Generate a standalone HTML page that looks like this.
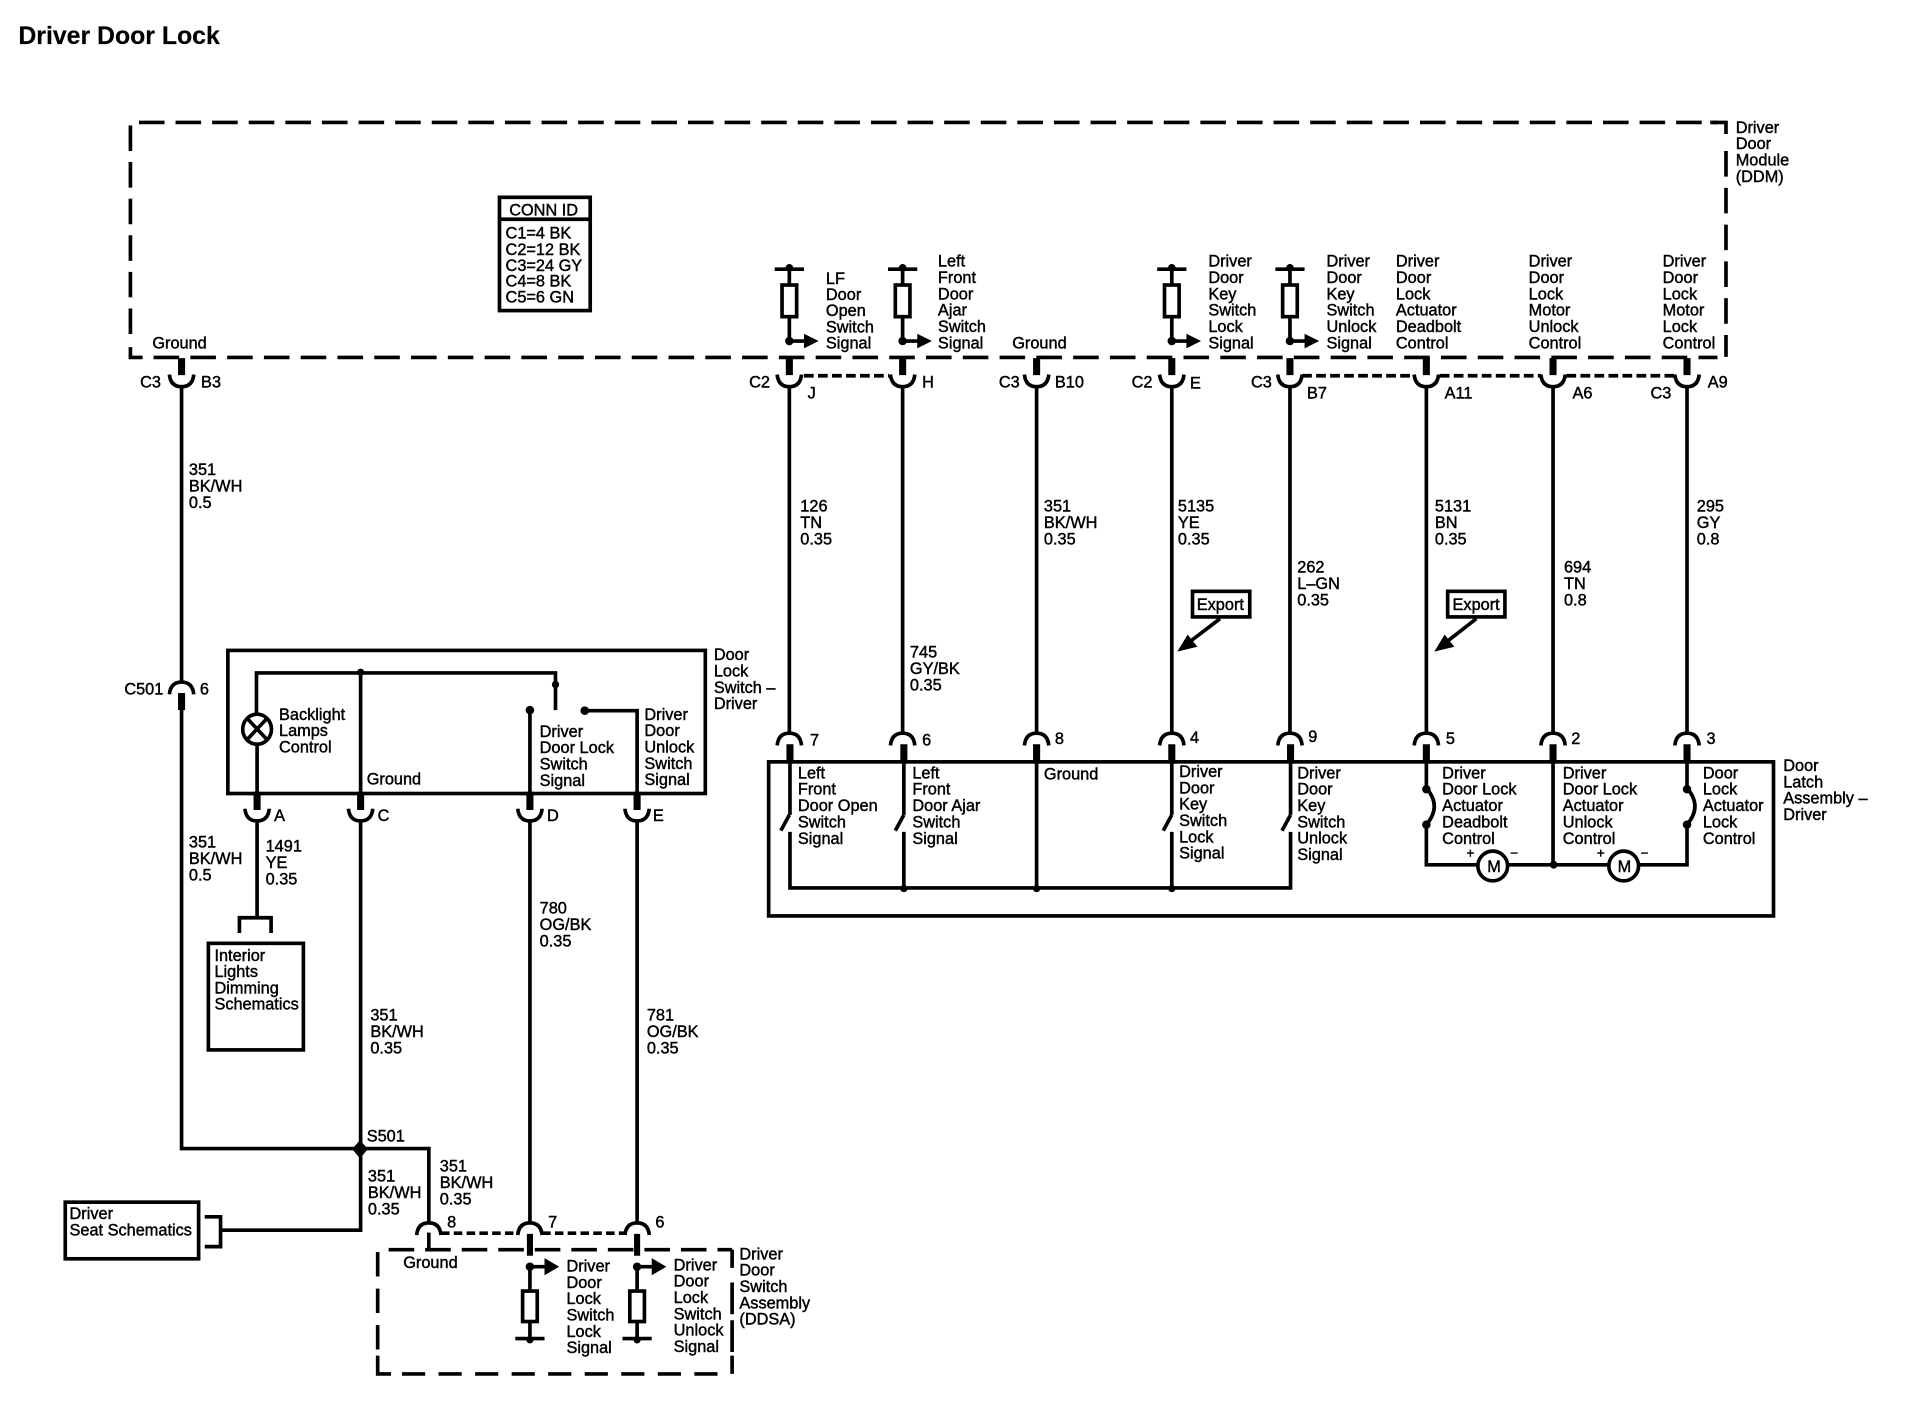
<!DOCTYPE html>
<html><head><meta charset="utf-8"><title>Driver Door Lock</title>
<style>
html,body{margin:0;padding:0;background:#fff}
svg{display:block}
text{font-family:"Liberation Sans",sans-serif;font-size:13.4px;fill:#000;stroke:#000;stroke-width:.35}
.n{fill:none;stroke:#000;stroke-width:3}
.s{fill:none;stroke:#000;stroke-width:5.8}
.f{fill:#000;stroke:none}
</style></head><body>
<svg xmlns="http://www.w3.org/2000/svg" width="1910" height="1408" viewBox="0 0 1568 1156">
<defs>
<path id="u" class="n" d="M-10 0Q-9 10 0 10Q9 10 10 0"/>
<path id="a" class="n" d="M-10 10Q-9 0 0 0Q9 0 10 10"/>
<g id="res"><path class="n" d="M0 0V13M-12 0H12M0 39V60"/><rect class="n" x="-6" y="13" width="12" height="26" fill="none"/><circle class="f" cx="0" cy="-1" r="3.2"/><circle class="f" cx="0" cy="59" r="3.5"/><path class="n" d="M0 59H14"/><path class="f" d="M12 53L24 59L12 65Z"/></g>
<g id="res2"><path class="n" d="M0 0V20M-12 59H12M0 45V59"/><rect class="n" x="-6" y="20" width="12" height="25" fill="none"/><circle class="f" cx="0" cy="60" r="3"/><circle class="f" cx="0" cy="0" r="3.5"/><path class="n" d="M0 0H14"/><path class="f" d="M12 -7L24 0L12 7Z"/></g>
</defs>

<text x="15" y="36" style="font-size:20.4px;font-weight:bold;stroke-width:.15">Driver Door Lock</text>

<!-- DDM dashed -->
<path class="n" stroke-dasharray="21 9.05" d="M114 100.5H1410"/>
<path class="n" d="M1404 100.5H1417V110"/>
<path class="n" stroke-dasharray="21 9.05" d="M107 103V275"/>
<path class="n" d="M107 285V293.500H117"/>
<path class="n" stroke-dasharray="21 9.2" d="M126 293.500H1410"/>
<path class="n" stroke-dasharray="21 9.2" d="M1417 124V293"/>

<!-- CONN ID -->
<rect class="n" x="410" y="162" width="74.500" height="93"/>
<path class="n" stroke-width="2" d="M410 180H484"/>
<text x="418" y="177">CONN ID</text>
<text x="415" y="196">C1=4 BK</text>
<text x="415" y="209.400">C2=12 BK</text>
<text x="415" y="222.400">C3=24 GY</text>
<text x="415" y="235.400">C4=8 BK</text>
<text x="415" y="248.500">C5=6 GN</text>

<!-- top stubs and connectors -->
<path class="s" d="M149 294V308M648 294V308M741 294V308M851 294V308M962 294V308M1059 294V308M1171 294V308M1275 294V308M1385 294V308"/>
<use href="#u" x="149" y="307.500"/><use href="#u" x="648" y="307.500"/><use href="#u" x="741" y="307.500"/><use href="#u" x="851" y="307.500"/><use href="#u" x="962" y="307.500"/><use href="#u" x="1059" y="307.500"/><use href="#u" x="1171" y="307.500"/><use href="#u" x="1275" y="307.500"/><use href="#u" x="1385" y="307.500"/>
<path class="n" stroke-dasharray="8 3.500" d="M660 308.500H730M1069 308.500H1161M1182 308.500H1265M1286 308.500H1375"/>
<use href="#res" x="648" y="221"/><use href="#res" x="741" y="221"/><use href="#res" x="962" y="221"/><use href="#res" x="1059" y="221"/>

<!-- main wires -->
<path class="n" d="M648 317V602M741 317V602M851 317V602M962 317V602M1059 317V602M1171 317V602M1275 317V602M1385 317V602"/>
<path class="n" d="M149 317V560M149 570V943H352V1004M296 675V1010H182M211 675V753M196.500 766V753.500H222.500V766M435 675V1004M523 675V1004"/>
<path class="s" d="M149 569V583"/>
<use href="#a" x="149" y="560"/>

<!-- lower latch connectors -->
<use href="#a" x="648" y="602"/><use href="#a" x="741" y="602"/><use href="#a" x="851" y="602"/><use href="#a" x="962" y="602"/><use href="#a" x="1059" y="602"/><use href="#a" x="1171" y="602"/><use href="#a" x="1275" y="602"/><use href="#a" x="1385" y="602"/>
<path class="s" d="M648.500 611V627M742 611V627M851 611V627M962 611V627M1059.500 611V627M1171 611V627M1275 611V627M1385 611V627"/>

<!-- latch box -->
<rect class="n" x="631" y="625.500" width="825" height="126.500"/>
<path class="n" d="M648.500 625V669M648.500 683V729H1059.500V683M742 625V669M742 683V729M851 625V729M962 625V669M962 683V729M1059.500 625V669"/>
<path class="n" d="M648 669L641 682M742 669L735 682M962 669L955 682M1059.500 669L1052.500 682"/>
<circle class="f" cx="742" cy="729.500" r="3"/><circle class="f" cx="851" cy="729.500" r="3"/><circle class="f" cx="962" cy="729.500" r="3"/>
<path class="n" d="M1171 625V647M1171 677V710H1213M1238 710H1320M1346 710H1385V677M1385 647V625M1275 625V710"/>
<path class="n" d="M1171 647Q1184 662 1171 677M1385 647Q1398 662 1385 677"/>
<circle class="f" cx="1171" cy="648" r="3.500"/><circle class="f" cx="1171" cy="677" r="3.500"/><circle class="f" cx="1385" cy="648" r="3.500"/><circle class="f" cx="1385" cy="677" r="3.500"/><circle class="f" cx="1275.500" cy="710" r="3.200"/>
<circle class="n" cx="1225.500" cy="711" r="12.200"/><circle class="n" cx="1333" cy="711" r="12.200"/>
<text x="1221" y="716">M</text><text x="1328" y="716">M</text>
<text x="1204" y="704" style="font-size:11px">+</text><text x="1240" y="704" style="font-size:11px">−</text>
<text x="1311" y="704" style="font-size:11px">+</text><text x="1347" y="704" style="font-size:11px">−</text>

<!-- door lock switch box -->
<rect class="n" x="187" y="534" width="392" height="117.500"/>
<path class="n" d="M210.500 586V552.500H456V583M296 552V651M435 583V651M480 583.500H523V651M211 611V651"/>
<circle class="f" cx="296" cy="552" r="3"/><circle class="f" cx="456" cy="562" r="3"/><circle class="f" cx="435" cy="583" r="3.500"/><circle class="f" cx="480" cy="583.500" r="3.500"/>
<ellipse class="n" cx="211" cy="598.700" rx="11.800" ry="12.300"/>
<path class="n" d="M203 590L219 607M219 590L203 607"/>
<path class="s" d="M211 650V665M296 650V665M435 650V665M523 650V665"/>
<use href="#u" x="211" y="664"/><use href="#u" x="296" y="664"/><use href="#u" x="435" y="664"/><use href="#u" x="523" y="664"/>

<!-- interior lights -->
<rect class="n" x="171" y="774.500" width="78" height="87.500"/>

<!-- S501 and seat -->
<path class="f" d="M295.500 936L302 943.500L295.500 951L289 943.500Z"/>
<rect class="n" x="53.500" y="987" width="109.500" height="46.500"/>
<path class="n" d="M168 999H181V1023.500H168"/>

<!-- DDSA -->
<use href="#a" x="352" y="1004"/><use href="#a" x="435" y="1004"/><use href="#a" x="523" y="1004"/>
<path class="n" stroke-dasharray="7 3.500" d="M362 1012.500H425M445 1012.500H513"/>
<path class="n" stroke-width="4" stroke-dasharray="21 9" d="M319 1026H601"/>
<path class="n" stroke-dasharray="20 10" d="M310 1028V1110"/>
<path class="n" d="M310 1113V1128H321"/>
<path class="n" stroke-width="3.500" stroke-dasharray="19 11" d="M330 1128H590"/>
<path class="n" d="M601 1026V1041M601 1053V1079M601 1084V1110M601 1113V1128"/>
<path class="n" d="M352 1012V1026"/>
<path class="s" style="stroke-width:5" d="M435 1013V1031M523 1013V1031"/>
<use href="#res2" x="435" y="1040"/><use href="#res2" x="523" y="1040"/>

<!-- export -->
<rect class="n" x="979" y="485.500" width="47" height="21"/>
<rect class="n" x="1188.500" y="485.500" width="47" height="21"/>
<path class="n" d="M1001.500 508L974 529M1212 508L1185 529"/>
<path class="f" d="M966.500 535L983 531L975 521ZM1177.500 535L1194 531L1186 521Z"/>
<text x="982.500" y="501">Export</text><text x="1192.500" y="501">Export</text>

<!-- labels: DDM -->
<text x="1425" y="109"><tspan x="1425">Driver</tspan><tspan x="1425" dy="13.500">Door</tspan><tspan x="1425" dy="13.500">Module</tspan><tspan x="1425" dy="13.500">(DDM)</tspan></text>
<text x="125" y="286">Ground</text>
<text x="115" y="318">C3</text><text x="165" y="318">B3</text>
<text x="678" y="233"><tspan x="678">LF</tspan><tspan x="678" dy="13.300">Door</tspan><tspan x="678" dy="13.300">Open</tspan><tspan x="678" dy="13.300">Switch</tspan><tspan x="678" dy="13.300">Signal</tspan></text>
<text y="219"><tspan x="770">Left</tspan><tspan x="770" dy="13.400">Front</tspan><tspan x="770" dy="13.400">Door</tspan><tspan x="770" dy="13.400">Ajar</tspan><tspan x="770" dy="13.400">Switch</tspan><tspan x="770" dy="13.400">Signal</tspan></text>
<text x="831" y="286">Ground</text>
<text y="219"><tspan x="992">Driver</tspan><tspan x="992" dy="13.400">Door</tspan><tspan x="992" dy="13.400">Key</tspan><tspan x="992" dy="13.400">Switch</tspan><tspan x="992" dy="13.400">Lock</tspan><tspan x="992" dy="13.400">Signal</tspan></text>
<text y="219"><tspan x="1089">Driver</tspan><tspan x="1089" dy="13.400">Door</tspan><tspan x="1089" dy="13.400">Key</tspan><tspan x="1089" dy="13.400">Switch</tspan><tspan x="1089" dy="13.400">Unlock</tspan><tspan x="1089" dy="13.400">Signal</tspan></text>
<text y="219"><tspan x="1146">Driver</tspan><tspan x="1146" dy="13.400">Door</tspan><tspan x="1146" dy="13.400">Lock</tspan><tspan x="1146" dy="13.400">Actuator</tspan><tspan x="1146" dy="13.400">Deadbolt</tspan><tspan x="1146" dy="13.400">Control</tspan></text>
<text y="219"><tspan x="1255">Driver</tspan><tspan x="1255" dy="13.400">Door</tspan><tspan x="1255" dy="13.400">Lock</tspan><tspan x="1255" dy="13.400">Motor</tspan><tspan x="1255" dy="13.400">Unlock</tspan><tspan x="1255" dy="13.400">Control</tspan></text>
<text y="219"><tspan x="1365">Driver</tspan><tspan x="1365" dy="13.400">Door</tspan><tspan x="1365" dy="13.400">Lock</tspan><tspan x="1365" dy="13.400">Motor</tspan><tspan x="1365" dy="13.400">Lock</tspan><tspan x="1365" dy="13.400">Control</tspan></text>

<!-- pin labels -->
<text x="615" y="318">C2</text><text x="663" y="327">J</text><text x="757" y="318">H</text><text x="820" y="318">C3</text><text x="866" y="318">B10</text><text x="929" y="318">C2</text><text x="977" y="319">E</text><text x="1027" y="318">C3</text><text x="1073" y="327">B7</text><text x="1186" y="327">A11</text><text x="1291" y="327">A6</text><text x="1355" y="327">C3</text><text x="1402" y="318">A9</text>
<text x="665" y="612">7</text><text x="757" y="612">6</text><text x="866" y="611">8</text><text x="977" y="610">4</text><text x="1074" y="609">9</text><text x="1187" y="611">5</text><text x="1290" y="611">2</text><text x="1401" y="611">3</text>

<!-- wire labels -->
<text y="390"><tspan x="155">351</tspan><tspan x="155" dy="13.500">BK/WH</tspan><tspan x="155" dy="13.500">0.5</tspan></text>
<text y="420"><tspan x="657">126</tspan><tspan x="657" dy="13.500">TN</tspan><tspan x="657" dy="13.500">0.35</tspan></text>
<text y="540"><tspan x="747">745</tspan><tspan x="747" dy="13.500">GY/BK</tspan><tspan x="747" dy="13.500">0.35</tspan></text>
<text y="420"><tspan x="857">351</tspan><tspan x="857" dy="13.500">BK/WH</tspan><tspan x="857" dy="13.500">0.35</tspan></text>
<text y="420"><tspan x="967">5135</tspan><tspan x="967" dy="13.500">YE</tspan><tspan x="967" dy="13.500">0.35</tspan></text>
<text y="470"><tspan x="1065">262</tspan><tspan x="1065" dy="13.500">L–GN</tspan><tspan x="1065" dy="13.500">0.35</tspan></text>
<text y="420"><tspan x="1178">5131</tspan><tspan x="1178" dy="13.500">BN</tspan><tspan x="1178" dy="13.500">0.35</tspan></text>
<text y="470"><tspan x="1284">694</tspan><tspan x="1284" dy="13.500">TN</tspan><tspan x="1284" dy="13.500">0.8</tspan></text>
<text y="420"><tspan x="1393">295</tspan><tspan x="1393" dy="13.500">GY</tspan><tspan x="1393" dy="13.500">0.8</tspan></text>

<!-- latch labels -->
<text y="639"><tspan x="655">Left</tspan><tspan x="655" dy="13.500">Front</tspan><tspan x="655" dy="13.500">Door Open</tspan><tspan x="655" dy="13.500">Switch</tspan><tspan x="655" dy="13.500">Signal</tspan></text>
<text y="639"><tspan x="749">Left</tspan><tspan x="749" dy="13.500">Front</tspan><tspan x="749" dy="13.500">Door Ajar</tspan><tspan x="749" dy="13.500">Switch</tspan><tspan x="749" dy="13.500">Signal</tspan></text>
<text x="857" y="640">Ground</text>
<text y="638"><tspan x="968">Driver</tspan><tspan x="968" dy="13.400">Door</tspan><tspan x="968" dy="13.400">Key</tspan><tspan x="968" dy="13.400">Switch</tspan><tspan x="968" dy="13.400">Lock</tspan><tspan x="968" dy="13.400">Signal</tspan></text>
<text y="639"><tspan x="1065">Driver</tspan><tspan x="1065" dy="13.400">Door</tspan><tspan x="1065" dy="13.400">Key</tspan><tspan x="1065" dy="13.400">Switch</tspan><tspan x="1065" dy="13.400">Unlock</tspan><tspan x="1065" dy="13.400">Signal</tspan></text>
<text y="639"><tspan x="1184">Driver</tspan><tspan x="1184" dy="13.500">Door Lock</tspan><tspan x="1184" dy="13.500">Actuator</tspan><tspan x="1184" dy="13.500">Deadbolt</tspan><tspan x="1184" dy="13.500">Control</tspan></text>
<text y="639"><tspan x="1283">Driver</tspan><tspan x="1283" dy="13.500">Door Lock</tspan><tspan x="1283" dy="13.500">Actuator</tspan><tspan x="1283" dy="13.500">Unlock</tspan><tspan x="1283" dy="13.500">Control</tspan></text>
<text y="639"><tspan x="1398">Door</tspan><tspan x="1398" dy="13.500">Lock</tspan><tspan x="1398" dy="13.500">Actuator</tspan><tspan x="1398" dy="13.500">Lock</tspan><tspan x="1398" dy="13.500">Control</tspan></text>
<text y="633"><tspan x="1464">Door</tspan><tspan x="1464" dy="13.400">Latch</tspan><tspan x="1464" dy="13.400">Assembly –</tspan><tspan x="1464" dy="13.400">Driver</tspan></text>

<!-- switch labels -->
<text y="542"><tspan x="586">Door</tspan><tspan x="586" dy="13.400">Lock</tspan><tspan x="586" dy="13.400">Switch –</tspan><tspan x="586" dy="13.400">Driver</tspan></text>
<text x="102" y="570">C501</text><text x="164" y="570">6</text>
<text y="591"><tspan x="229">Backlight</tspan><tspan x="229" dy="13.400">Lamps</tspan><tspan x="229" dy="13.400">Control</tspan></text>
<text x="301" y="644">Ground</text>
<text y="605"><tspan x="443">Driver</tspan><tspan x="443" dy="13.400">Door Lock</tspan><tspan x="443" dy="13.400">Switch</tspan><tspan x="443" dy="13.400">Signal</tspan></text>
<text y="591"><tspan x="529">Driver</tspan><tspan x="529" dy="13.400">Door</tspan><tspan x="529" dy="13.400">Unlock</tspan><tspan x="529" dy="13.400">Switch</tspan><tspan x="529" dy="13.400">Signal</tspan></text>
<text x="225" y="674">A</text><text x="310" y="674">C</text><text x="449" y="674">D</text><text x="536" y="674">E</text>
<text y="696"><tspan x="155">351</tspan><tspan x="155" dy="13.500">BK/WH</tspan><tspan x="155" dy="13.500">0.5</tspan></text>
<text y="699"><tspan x="218">1491</tspan><tspan x="218" dy="13.500">YE</tspan><tspan x="218" dy="13.500">0.35</tspan></text>
<text y="789"><tspan x="176">Interior</tspan><tspan x="176" dy="13.300">Lights</tspan><tspan x="176" dy="13.300">Dimming</tspan><tspan x="176" dy="13.300">Schematics</tspan></text>
<text y="750"><tspan x="443">780</tspan><tspan x="443" dy="13.500">OG/BK</tspan><tspan x="443" dy="13.500">0.35</tspan></text>
<text y="838"><tspan x="531">781</tspan><tspan x="531" dy="13.500">OG/BK</tspan><tspan x="531" dy="13.500">0.35</tspan></text>
<text y="838"><tspan x="304">351</tspan><tspan x="304" dy="13.500">BK/WH</tspan><tspan x="304" dy="13.500">0.35</tspan></text>
<text x="301" y="937">S501</text>
<text y="970"><tspan x="302">351</tspan><tspan x="302" dy="13.500">BK/WH</tspan><tspan x="302" dy="13.500">0.35</tspan></text>
<text y="962"><tspan x="361">351</tspan><tspan x="361" dy="13.500">BK/WH</tspan><tspan x="361" dy="13.500">0.35</tspan></text>
<text x="367" y="1008">8</text><text x="450" y="1008">7</text><text x="538" y="1008">6</text>
<text x="331" y="1041">Ground</text>
<text y="1044"><tspan x="465">Driver</tspan><tspan x="465" dy="13.400">Door</tspan><tspan x="465" dy="13.400">Lock</tspan><tspan x="465" dy="13.400">Switch</tspan><tspan x="465" dy="13.400">Lock</tspan><tspan x="465" dy="13.400">Signal</tspan></text>
<text y="1043"><tspan x="553">Driver</tspan><tspan x="553" dy="13.400">Door</tspan><tspan x="553" dy="13.400">Lock</tspan><tspan x="553" dy="13.400">Switch</tspan><tspan x="553" dy="13.400">Unlock</tspan><tspan x="553" dy="13.400">Signal</tspan></text>
<text y="1034"><tspan x="607">Driver</tspan><tspan x="607" dy="13.400">Door</tspan><tspan x="607" dy="13.400">Switch</tspan><tspan x="607" dy="13.400">Assembly</tspan><tspan x="607" dy="13.400">(DDSA)</tspan></text>
<text y="1001"><tspan x="57">Driver</tspan><tspan x="57" dy="13.400">Seat Schematics</tspan></text>
</svg>
</body></html>
